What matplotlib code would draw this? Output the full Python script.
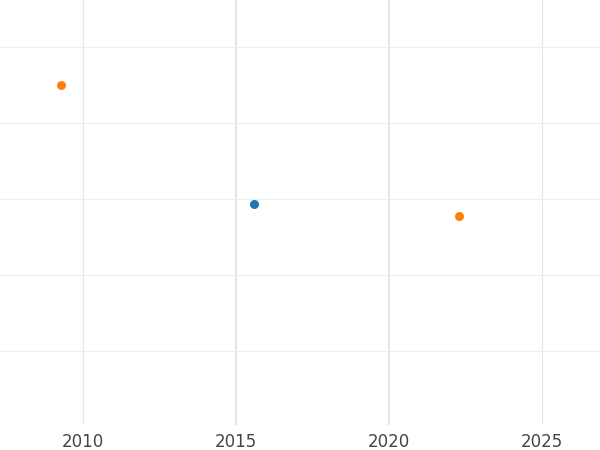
import matplotlib
matplotlib.use("Agg")
import matplotlib.pyplot as plt

# Data
blue_x = [2015.59]
blue_y = [2.93]
orange_x = [2009.28, 2022.29]
orange_y = [4.5, 2.78]
x_ticks = [2010, 2015, 2020, 2025]
y_grid = [1, 2, 3, 4, 5]

fig = plt.figure(figsize=(6, 4.5), dpi=100)
ax = fig.add_axes([0, 0.055, 1, 0.945])

ax.scatter(blue_x, blue_y, color="#1f77b4", s=30, zorder=3)
ax.scatter(orange_x, orange_y, color="#ff7f0e", s=30, zorder=3)

ax.set_xlim(2007.29, 2026.9)
ax.set_ylim(0.026, 5.62)
ax.set_xticks(x_ticks)
ax.set_yticks(y_grid)
ax.set_yticklabels([])
ax.tick_params(length=0, labelsize=12, colors="#444444", pad=5.5)
ax.tick_params(axis="y", left=False)

for v in x_ticks:
    lw = 1.5 if v in (2015, 2020) else 0.8
    ax.axvline(v, color="#e6e6e6", lw=lw, zorder=0)
for v in y_grid:
    ax.axhline(v, color="#eeeeee", lw=0.8, zorder=0)

for s in ax.spines.values():
    s.set_visible(False)

fig.savefig("out.png")
